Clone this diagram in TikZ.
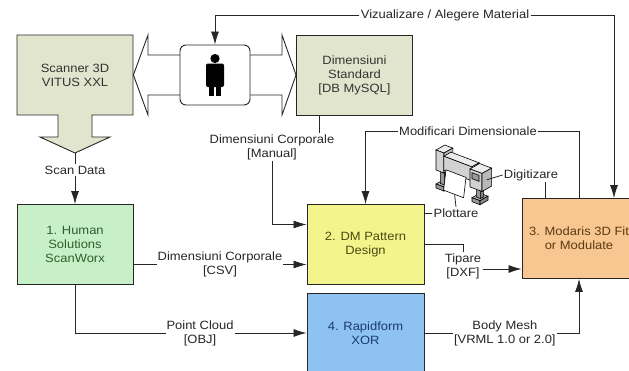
\documentclass[tikz,border=0pt]{standalone}
\usepackage{fontspec}
\setmainfont{Liberation Sans}[FakeStretch=1.08]
\usepackage{xcolor}
\usetikzlibrary{arrows.meta,positioning}
\definecolor{stdfill}{HTML}{E2E5CD}
\definecolor{humanfill}{HTML}{C8F0C8}
\definecolor{humantext}{HTML}{2E5E2E}
\definecolor{dmfill}{HTML}{F4F48C}
\definecolor{dmtext}{HTML}{4A4A12}
\definecolor{rapidfill}{HTML}{8EC2F0}
\definecolor{rapidtext}{HTML}{1C3A78}
\definecolor{modfill}{HTML}{F8C690}
\definecolor{modtext}{HTML}{5C3A12}
\colorlet{litetop}{gray!15}
\colorlet{litefront}{gray!35}
\colorlet{liteside}{gray!55}
\colorlet{darktop}{gray!60}
\colorlet{darkfront}{gray!80}
\colorlet{darkside}{gray!95}
\tikzset{%
	every node/.append style = {font=\fontsize{12}{14}\selectfont},
	box/.style     = {draw, rectangle, minimum width=116pt, minimum height=80pt, align=center, line width=0.9pt},
	txtbox/.style  = {rectangle, minimum width=116pt, minimum height=80pt, align=center, text=black!80},
	lbl/.style     = {fill=white, inner sep=1pt, align=center, text=black!85},
	arrow/.style   = {-{Latex[length=13pt,width=8pt]}},
}
% a shaded box in the plotter: a1 a2 b1 b2 c1 c2 tone
\newcommand{\isobox}[7]{%
	\filldraw[fill=#7top] (#1,#3,#6) -- (#2,#3,#6) -- (#2,#4,#6) -- (#1,#4,#6) -- cycle;
	\filldraw[fill=#7front] (#1,#3,#5) -- (#2,#3,#5) -- (#2,#3,#6) -- (#1,#3,#6) -- cycle;
	\filldraw[fill=#7side] (#2,#3,#5) -- (#2,#4,#5) -- (#2,#4,#6) -- (#2,#3,#6) -- cycle;
}

\begin{document}
\begin{tikzpicture}[x=1pt,y=-1pt,line width=0.8pt,draw=black!85]
	\useasboundingbox (0,0) rectangle (629,370);

	% scanner with its block arrow
	\filldraw[fill=stdfill,line width=0.9pt] (17,35) -- (133,35) -- (133,115) -- (92,115) -- (92,137) -- (110,137) -- (75,153) coordinate (scantip) -- (40,137) -- (58,137) -- (58,115) -- (17,115) -- cycle;
	\node[txtbox] (scanner) at (75,75) {Scanner 3D\\VITUS XXL};
	\node[box,fill=stdfill,text=black!80] (std) at (354.5,75) {Dimensiuni\\Standard\\{[DB MySQL]}};

	% user between scanner and database
	\filldraw[fill=white,line width=0.9pt] (scanner.east) -- (148,35) -- (148,55) -- (282,55) -- (282,35) -- (std.west) -- (282,115) -- (282,95) -- (148,95) -- (148,115) -- cycle;
	\node[draw,fill=white,rounded corners=6pt,minimum width=70pt,minimum height=60pt,line width=0.9pt] (user) at (215,75) {};
	\fill (215,58.5) circle (4.6pt);
	\fill[rounded corners=2pt] (206,63.5) rectangle (224,87);
	\fill (209,82) rectangle (214.4,96);
	\fill (215.6,82) rectangle (221,96);

	\node[box,fill=humanfill,text=humantext] (human) at (75,244.5) {1. Human\\Solutions\\ScanWorx};
	\node[box,fill=dmfill,text=dmtext,minimum width=117pt] (dm) at (365.5,244.5) {2. DM Pattern\\Design};
	\node[box,fill=rapidfill,text=rapidtext,minimum width=117pt] (rapid) at (365.5,333) {4. Rapidform\\XOR};
	\node[box,fill=modfill,text=modtext,minimum width=114pt] (mod) at (579,238.5) {3. Modaris 3D Fit\\or Modulate};

	% plotter
	\begin{scope}[shift={(436,188)},x={(1pt,-0.38pt)},y={(0.8pt,0.45pt)},z={(0pt,1pt)},line width=0.6pt,draw=black]
		\isobox{0}{8}{0}{10}{0}{4}{dark}
		\isobox{2}{6}{3}{7}{4}{20}{dark}
		\isobox{36}{44}{0}{10}{0}{4}{dark}
		\isobox{38}{42}{3}{7}{4}{16}{dark}
		\isobox{0}{8}{0}{11}{18}{38}{lite}
		\isobox{7}{35}{1}{10}{20}{34}{lite}
		\isobox{34}{46}{0}{12}{14}{32}{lite}
		\filldraw[fill=darkfront] (36,0,23) -- (43,0,23) -- (43,0,29) -- (36,0,29) -- cycle;
		\filldraw[fill=white] (10,0,22) -- (30,0,22) -- (30,-3,3) -- (10,-3,3) -- cycle;
		\coordinate (plotout) at (46,6,23);
		\coordinate (plotpaper) at (21,-3,3);
	\end{scope}

	% labels
	\node[lbl] (lblviz) at (445,15) {Vizualizare / Alegere Material};
	\node[lbl] (lblscan) at (75,170) {Scan Data};
	\node[lbl] (lblman) at (272,147) {Dimensiuni Corporale\\{[Manual]}};
	\node[lbl] (lblmod) at (468,131) {Modificari Dimensionale};
	\node[lbl] (lbldig) at (531,175) {Digitizare};
	\node[lbl] (lblplot) at (456,213) {Plottare};
	\node[lbl] (lbltip) at (463,266) {Tipare\\{[DXF]}};
	\coordinate (stdout) at ([xshift=-35pt]std.south);
	\coordinate (tipout) at ([yshift=-3pt]lbltip.east);
	\coordinate (digdown) at ([xshift=14pt]lbldig.south);

	% connectors
	\draw[arrow] (lblviz.west) -| (user.north);
	\draw[arrow] (lblviz.east) -| ([xshift=35pt]mod.north);
	\draw (scantip) -- (lblscan.north);
	\draw[arrow] (lblscan.south) -- (human.north);
	\draw (stdout) -- (stdout |- lblman.north);
	\draw[arrow] (lblman.south) |- ([yshift=20pt]dm.west);
	\draw[arrow] ([yshift=-20pt]human.east) -- node[lbl] {Dimensiuni Corporale\\{[CSV]}} ([yshift=-20pt]dm.west);
	\draw[arrow] (human.south) |- node[lbl,pos=0.77] {Point Cloud\\{[OBJ]}} (rapid.west);
	\draw[arrow] (rapid.east) -| node[lbl,pos=0.26] {Body Mesh\\{[VRML 1.0 or 2.0]}} (mod.south);
	\draw (dm.east) -| (lbltip.north);
	\draw[arrow] (tipout) -- (tipout -| mod.west);
	\draw (mod.north) |- (lblmod.east);
	\draw[arrow] (lblmod.west) -| (dm.north);
	\draw (plotout) -- (lbldig.west);
	\draw (digdown) -- (digdown |- mod.north);
	\draw (plotpaper) -- (lblplot.north);
	\draw (lblplot.west) -- (lblplot.west -| dm.east);
\end{tikzpicture}
\end{document}
